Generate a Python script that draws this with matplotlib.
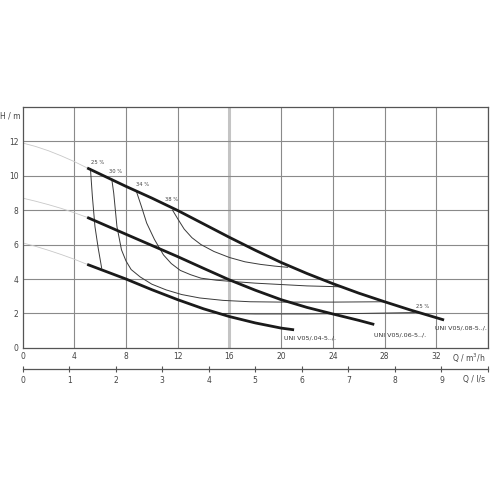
import matplotlib
matplotlib.use('Agg')
import matplotlib.pyplot as plt

plt.rcParams['font.family'] = ['Liberation Sans Narrow', 'DejaVu Sans']

# pump curves, Q in m3/h, H in m
q_08 = [5, 8, 10, 12, 14, 16, 18, 20, 22, 24, 26, 28, 30, 32.6]
h_08 = [10.45, 9.38, 8.7, 7.98, 7.2, 6.42, 5.67, 4.96, 4.32, 3.73, 3.18, 2.68, 2.2, 1.62]
q_06 = [5, 8, 10, 12, 14, 16, 18, 20, 22, 24, 26, 27.2]
h_06 = [7.58, 6.6, 5.95, 5.3, 4.62, 3.95, 3.35, 2.8, 2.35, 1.97, 1.6, 1.36]
q_04 = [5, 8, 10, 12, 14, 16, 18, 20, 21]
h_04 = [4.85, 4.0, 3.38, 2.8, 2.27, 1.82, 1.45, 1.15, 1.05]

# faint extension towards Q = 0
q_ext = [0, 1, 2, 3, 4, 5]
h_ext_08 = [11.9, 11.7, 11.45, 11.15, 10.82, 10.45]
h_ext_06 = [8.7, 8.52, 8.32, 8.1, 7.85, 7.58]
h_ext_04 = [6.1, 5.9, 5.67, 5.42, 5.15, 4.85]

# speed curves
q_25a = [5.25, 5.4, 5.6, 5.85, 6.12]
h_25a = [10.42, 8.8, 7.05, 5.8, 4.63]
q_25b = [15.3, 18, 22, 26, 30.3]
h_25b = [2.0, 1.97, 1.97, 2.0, 2.05]
q_30 = [6.9, 7.05, 7.3, 7.65, 8.0, 8.4, 9.1, 10.0, 11.1, 12.3, 13.7, 15.5, 17.6, 20, 24, 28]
h_30 = [9.8, 9.0, 7.05, 5.7, 5.05, 4.55, 4.12, 3.7, 3.37, 3.1, 2.9, 2.76, 2.68, 2.66, 2.66, 2.68]
q_34 = [8.8, 9.2, 9.6, 10.2, 10.9, 11.5, 12.2, 13.0, 13.8, 15, 16, 18, 20, 22, 24.5]
h_34 = [9.1, 8.2, 7.25, 6.3, 5.4, 4.9, 4.5, 4.25, 4.05, 3.93, 3.87, 3.76, 3.68, 3.6, 3.55]
q_38 = [11.6, 12.0, 12.5, 13.1, 13.8, 14.8, 16, 17.2, 18.4, 19.5, 20.5]
h_38 = [8.0, 7.5, 6.9, 6.4, 6.0, 5.6, 5.25, 5.0, 4.85, 4.75, 4.68]

pct_labels = ['25 %', '30 %', '34 %', '38 %', '25 %']
pct_q = [5.3, 6.7, 8.8, 11.0, 30.4]
pct_h = [10.75, 10.25, 9.5, 8.6, 2.4]

names = ['UNI V05/.04-5../.', 'UNI V05/.06-5../.', 'UNI V05/.08-5../.']
name_q = [20.2, 27.2, 31.9]
name_h = [0.56, 0.76, 1.15]

xticks = [0, 4, 8, 12, 16, 20, 24, 28, 32]
yticks = [0, 2, 4, 6, 8, 10, 12]
ls_ticks = [0, 1, 2, 3, 4, 5, 6, 7, 8, 9]

fig = plt.figure(figsize=(4.9, 4.9), dpi=100)
ax = fig.add_axes([0.046, 0.290, 0.950, 0.492])
ax.set_xlim(0, 36)
ax.set_ylim(0, 14)

for x in xticks[1:] + [36]:
    ax.axvline(x, color='#8a8a8a', lw=0.8, zorder=1)
ax.axvline(16, color='#c4c4c4', lw=2.2, zorder=1)
for y in yticks[1:]:
    ax.axhline(y, color='#8a8a8a', lw=0.8, zorder=1)

ax.plot(q_ext, h_ext_08, color='#c8c8c8', lw=0.6, zorder=2)
ax.plot(q_ext, h_ext_06, color='#c8c8c8', lw=0.6, zorder=2)
ax.plot(q_ext, h_ext_04, color='#c8c8c8', lw=0.6, zorder=2)

for qq, hh in [(q_25a, h_25a), (q_25b, h_25b), (q_30, h_30), (q_34, h_34), (q_38, h_38)]:
    ax.plot(qq, hh, color='#3a3a3a', lw=0.7, zorder=3)

for qq, hh in [(q_08, h_08), (q_06, h_06), (q_04, h_04)]:
    ax.plot(qq, hh, color='#1a1a1a', lw=2.0, zorder=4, solid_capstyle='butt',
            solid_joinstyle='round')

for t, x, y in zip(pct_labels, pct_q, pct_h):
    ax.text(x, y, t, fontsize=3.8, color='#444444', ha='left', va='center', zorder=5)
for t, x, y in zip(names, name_q, name_h):
    ax.text(x, y, t, fontsize=4.6, color='#333333', ha='left', va='center', zorder=5,
            clip_on=False)

ax.set_xticks(xticks)
ax.set_yticks(yticks)
ax.tick_params(length=0, labelsize=5.5, labelcolor='#444444', pad=3)
for s in ax.spines.values():
    s.set_color('#555555')
    s.set_linewidth(0.9)

ax.annotate('Q / m$^3$/h', xy=(1.0, 0), xycoords='axes fraction', xytext=(-2, -3),
            textcoords='offset points', ha='right', va='top', fontsize=5.5, color='#444444')
fig.text(0.042, 0.763, 'H / m', fontsize=5.5, color='#444444', ha='right', va='center')

# second flow axis in l/s
ax2 = fig.add_axes([0.046, 0.247, 0.950, 0.001])
ax2.set_xlim(0, 10)
ax2.set_ylim(0, 1)
ax2.set_yticks([])
for s in ['top', 'left', 'right']:
    ax2.spines[s].set_visible(False)
ax2.spines['bottom'].set_color('#555555')
ax2.spines['bottom'].set_linewidth(0.9)
ax2.set_xticks(ls_ticks + [10])
ax2.set_xticklabels([str(v) for v in ls_ticks] + [''])
ax2.tick_params(direction='inout', length=4, width=0.8, color='#555555',
                labelsize=5.5, labelcolor='#444444', pad=3)
ax2.annotate('Q / l/s', xy=(1.0, 0), xycoords='axes fraction', xytext=(-2, -4.5),
             textcoords='offset points', ha='right', va='top', fontsize=5.5, color='#444444')

fig.savefig('out.png', dpi=100)
